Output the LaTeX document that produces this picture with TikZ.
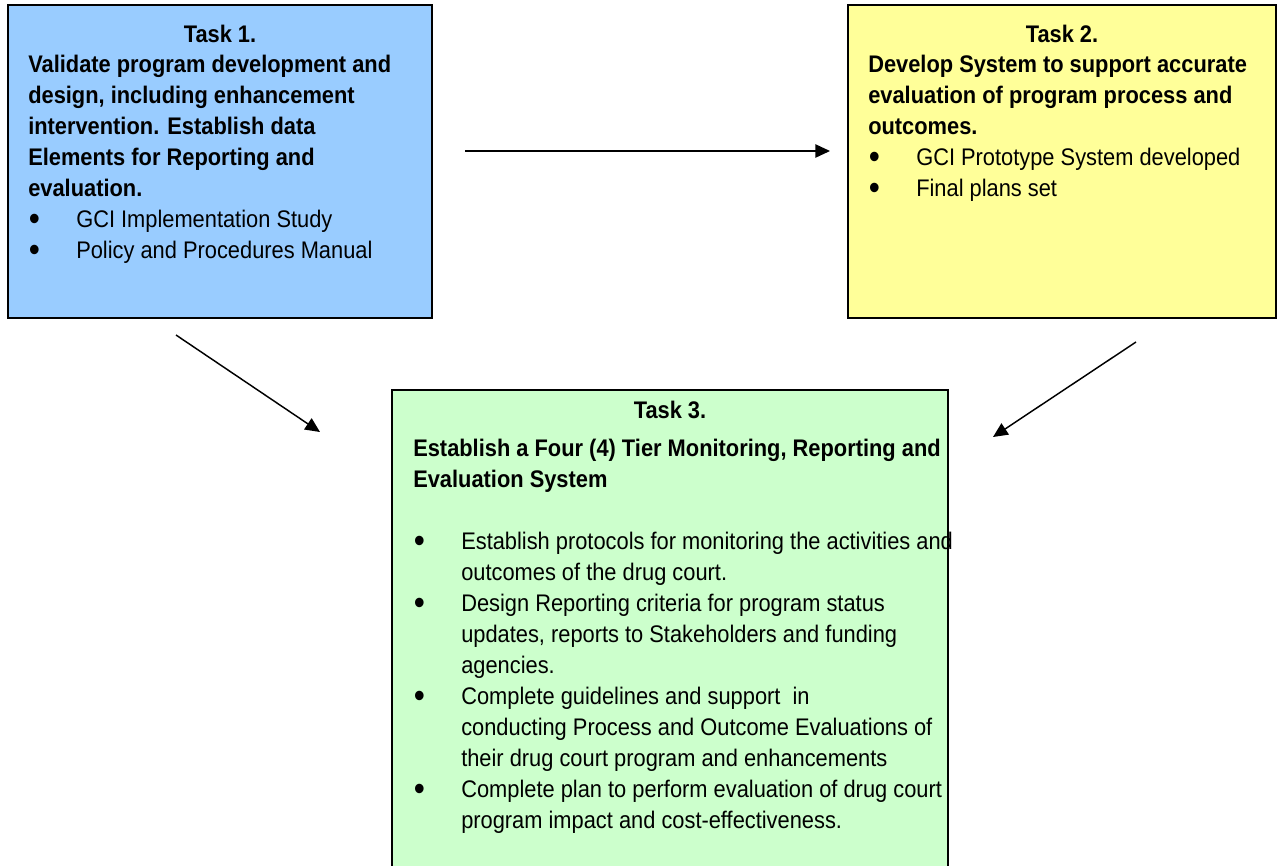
\documentclass[tikz,border=0pt]{standalone}
\usepackage{fontspec}
\setmainfont{Liberation Sans}[FakeStretch=0.91]
\usepackage{xcolor}
\usetikzlibrary{arrows.meta}
\definecolor{taskblue}{HTML}{99CCFF}
\definecolor{taskyellow}{HTML}{FFFF99}
\definecolor{taskgreen}{HTML}{CCFFCC}
\newcommand{\taskbullet}{\makebox[36pt][l]{\hspace{0.5pt}\smash{\raisebox{-2.8pt}{\scalebox{1.45}{\textbullet}}}}}
\newcommand{\taskindent}{\hspace*{36pt}}
\tikzset{
    task-box/.style = {draw=black, line width=1.5pt, rectangle, inner sep=0pt},
    task-title/.style = {anchor=base, inner sep=0pt, font=\fontsize{18}{23.25}\selectfont\bfseries},
    task-text/.style = {anchor=base west, inner sep=0pt, font=\fontsize{18}{23.25}\selectfont},
    task-arrow/.style = {line width=1.1pt, -{Triangle[length=11pt,width=10pt]}},
}

\begin{document}
\begin{tikzpicture}[x=0.75pt, y=-0.75pt]
\useasboundingbox (0,0) rectangle (1278,865);
% the three task boxes
\node [task-box, fill=taskblue, minimum width=318pt, minimum height=234.75pt] (t1) at (220,161.5) {};
\node [task-box, fill=taskyellow, minimum width=321pt, minimum height=234.75pt] (t2) at (1062,161.5) {};
\node [task-box, fill=taskgreen, minimum width=417pt, minimum height=363.75pt] (t3) at (670,632.5) {};
% task 1
\node [task-title] (t1title) at (220,42) {Task 1.};
\node [task-text] (t1body) at (28,72) {\begin{minipage}[t]{310pt}
    {\bfseries Validate program development and\\
    design, including enhancement\\
    intervention. Establish data\\
    Elements for Reporting and\\
    evaluation.\par}
    \taskbullet GCI Implementation Study\\
    \taskbullet Policy and Procedures Manual
    \end{minipage}};
% task 2
\node [task-title] (t2title) at (1062,42) {Task 2.};
\node [task-text] (t2body) at (868,72) {\begin{minipage}[t]{310pt}
    {\bfseries Develop System to support accurate\\
    evaluation of program process and\\
    outcomes.\par}
    \taskbullet GCI Prototype System developed\\
    \taskbullet Final plans set
    \end{minipage}};
% task 3
\node [task-title] (t3title) at (670,418) {Task 3.};
\node [task-text] (t3body) at (413,456) {\begin{minipage}[t]{410pt}
    {\bfseries Establish a Four (4) Tier Monitoring, Reporting and\\
    Evaluation System\par}
    \mbox{}\par
    \taskbullet Establish protocols for monitoring the activities and\\
    \taskindent outcomes of the drug court.\\
    \taskbullet Design Reporting criteria for program status\\
    \taskindent updates, reports to Stakeholders and funding\\
    \taskindent agencies.\\
    \taskbullet Complete guidelines and support\ \ in\\
    \taskindent conducting Process and Outcome Evaluations of\\
    \taskindent their drug court program and enhancements\\
    \taskbullet Complete plan to perform evaluation of drug court\\
    \taskindent program impact and cost-effectiveness.
    \end{minipage}};
% arrows between the boxes
\coordinate (a12s) at (465,151);
\coordinate (a12e) at (830,151);
\coordinate (a13s) at (176,335);
\coordinate (a13e) at (320,432);
\coordinate (a23s) at (1136,342);
\coordinate (a23e) at (993,437);
\draw [task-arrow] (a12s) -- (a12e);
\draw [task-arrow] (a13s) -- (a13e);
\draw [task-arrow] (a23s) -- (a23e);
\end{tikzpicture}
\end{document}
